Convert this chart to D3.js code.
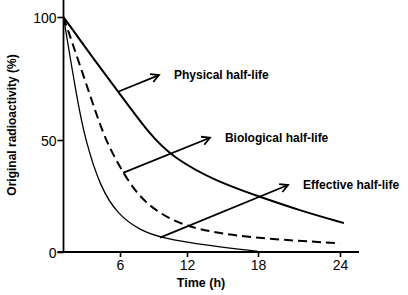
<!DOCTYPE html>
<html><head><meta charset="utf-8">
<script src="https://cdn.jsdelivr.net/npm/d3@7"></script>
<style>html,body{margin:0;padding:0;background:#fff;}svg{display:block;}</style>
</head><body>
<svg id="chart" width="408" height="295"></svg>
<script>
// Data (hours, % of original radioactivity)
const physicalX   = [0, 2.9, 5.82, 8.7, 10.66, 14.37, 18.15, 21.07, 24.29];
const physicalY   = [100, 84.5, 69.6, 52, 42.5, 31.7, 24.6, 18.5, 12.9];
const biologicalX = [0, 2.99, 4.42, 6.27, 8.06, 11.64, 17.32, 24];
const biologicalY = [100, 66.3, 50, 35.3, 21.9, 10.7, 6.25, 3.9];
const effectiveX  = [0, 1.45, 2.32, 3.89, 5.8, 7.79, 9.58, 13.94, 18];
const effectiveY  = [100, 66.3, 50, 29, 16.5, 9.8, 6.4, 2.7, 0.3];
const xTicks = [6, 12, 18, 24];
const yTicks = [0, 50, 100];
const labels = ["Physical half-life", "Biological half-life", "Effective half-life"];
// arrow annotations: from point on curve to tip (data units)
const arrowFrom = [[5.86, 69.7], [6.27, 35.3], [9.58, 6.4]];
const arrowTo   = [[9.49, 76.4], [13.94, 50.9], [20.2, 29.9]];

const svg = d3.select("#chart");
const x = d3.scaleLinear().domain([0, 6, 12, 18, 24]).range([63.5, 120, 187, 258, 340]);
const y = d3.scaleLinear().domain([0, 50, 100]).range([252, 140, 17]);

const font = "'Liberation Sans', Arial, sans-serif";

// axes
const yAxis = svg.append("g").attr("transform", `translate(${x(0)},0)`)
  .call(d3.axisLeft(y).tickValues(yTicks).tickSize(6).tickSizeOuter(0));
yAxis.select(".domain").remove();
yAxis.selectAll("line").attr("stroke", "#000").attr("stroke-width", 1.6);
yAxis.selectAll("text").attr("font-family", font).attr("font-size", 14).attr("fill", "#000").attr("x", -7).attr("dy", "0.36em");

const xAxis = svg.append("g").attr("transform", `translate(0,${y(0)})`)
  .call(d3.axisBottom(x).tickValues(xTicks).tickSize(5).tickSizeOuter(0));
xAxis.select(".domain").remove();
xAxis.selectAll("line").attr("stroke", "#000").attr("stroke-width", 1.6);
xAxis.selectAll("text").attr("font-family", font).attr("font-size", 14).attr("fill", "#000").attr("y", 8).attr("dy", "0.71em");

svg.append("line").attr("x1", x(0)).attr("x2", x(0)).attr("y1", y(0) + 0.8).attr("y2", 0)
  .attr("stroke", "#000").attr("stroke-width", 1.8);
svg.append("line").attr("x1", x(0) - 6).attr("x2", 359).attr("y1", y(0)).attr("y2", y(0))
  .attr("stroke", "#000").attr("stroke-width", 1.8);

// titles
svg.append("text").attr("x", 201).attr("y", 287).attr("text-anchor", "middle")
  .attr("font-family", font).attr("font-weight", "bold").attr("font-size", 12.5).text("Time (h)");
svg.append("text").attr("transform", "translate(16,125) rotate(-90)").attr("text-anchor", "middle")
  .attr("font-family", font).attr("font-weight", "bold").attr("font-size", 12).text("Original radioactivity (%)");

// curves
const line = d3.line().x(d => x(d[0])).y(d => y(d[1])).curve(d3.curveBasis);
const zip = (a, b) => a.map((v, i) => [v, b[i]]);
svg.append("path").attr("d", line(zip(physicalX, physicalY))).attr("fill", "none")
  .attr("stroke", "#000").attr("stroke-width", 2);
svg.append("path").attr("d", line(zip(biologicalX, biologicalY))).attr("fill", "none")
  .attr("stroke", "#000").attr("stroke-width", 2).attr("stroke-dasharray", "9,5");
svg.append("path").attr("d", line(zip(effectiveX, effectiveY))).attr("fill", "none")
  .attr("stroke", "#000").attr("stroke-width", 1.3);

// arrows and labels
arrowFrom.forEach((f, i) => {
  const x1 = x(f[0]), y1 = y(f[1]), x2 = x(arrowTo[i][0]), y2 = y(arrowTo[i][1]);
  const a = Math.atan2(y2 - y1, x2 - x1), L = 9, w = 0.5;
  svg.append("path").attr("d", `M${x1},${y1}L${x2},${y2}`)
    .attr("stroke", "#000").attr("stroke-width", 1.8).attr("fill", "none");
  svg.append("path")
    .attr("d", `M${x2 - L * Math.cos(a - w)},${y2 - L * Math.sin(a - w)}L${x2},${y2}L${x2 - L * Math.cos(a + w)},${y2 - L * Math.sin(a + w)}`)
    .attr("stroke", "#000").attr("stroke-width", 1.8).attr("fill", "none");
  svg.append("text").attr("x", x2 + 15).attr("y", y2).attr("dy", "0.35em")
    .attr("font-family", font).attr("font-weight", "bold").attr("font-size", 12).text(labels[i]);
});
</script>
</body></html>
